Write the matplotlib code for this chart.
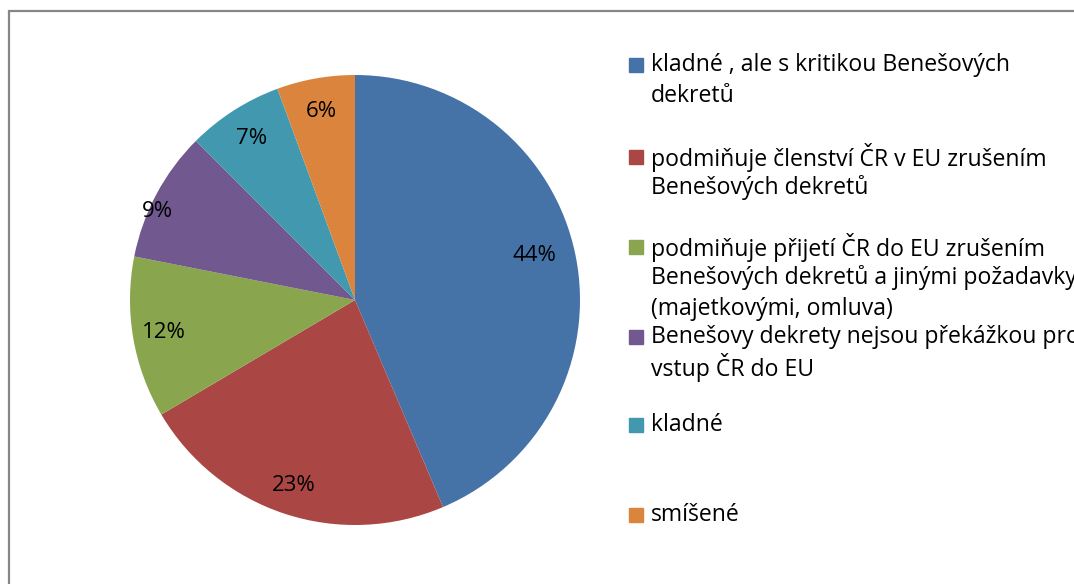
import numpy as np
import matplotlib.pyplot as plt
from matplotlib.patches import Rectangle

# shares (labels round to 44/23/12/9/7/6 %)
categories = [
    'kladné , ale s kritikou Benešových\ndekretů',
    'podmiňuje členství ČR v EU zrušením\nBenešových dekretů',
    'podmiňuje přijetí ČR do EU zrušením\nBenešových dekretů a jinými požadavky\n(majetkovými, omluva)',
    'Benešovy dekrety nejsou překážkou pro\nvstup ČR do EU',
    'kladné',
    'smíšené',
]
shares = [43.6, 22.9, 11.6, 9.4, 6.9, 5.6]
colors = ['#4572A7', '#AA4643', '#89A54E', '#71588F', '#4198AF', '#DB843D']

# layout: radial place / angle nudge of each % label, legend rows (px from top)
pct_dist = [0.82, 0.87, 0.86, 0.96, 0.85, 0.85]
pct_nudge = [2.5, 0, 0, 4, 0, 0]
legend_rows = [65, 157, 247, 337, 425, 515]

W, H = 1074, 584
plt.rcParams['font.family'] = ['Open Sans', 'DejaVu Sans']

fig = plt.figure(figsize=(W / 100, H / 100), dpi=100)

# chart frame, runs off the right and bottom edges
fig.patches.append(Rectangle((8.5 / W, -0.05), 1.1, (H - 10.5) / H + 0.05,
                             transform=fig.transFigure, fill=False,
                             edgecolor='#868686', linewidth=1.6))

ax = fig.add_axes([130 / W, (H - 525) / H, 450 / W, 450 / H])
wedges, texts, autotexts = ax.pie(shares, colors=colors, startangle=90,
                                  counterclock=False, autopct='%.0f%%',
                                  textprops={'fontsize': 16, 'color': 'black'})
for w, t, d, n in zip(wedges, autotexts, pct_dist, pct_nudge):
    ang = np.deg2rad((w.theta1 + w.theta2) / 2 + n)
    t.set_position((d * np.cos(ang), d * np.sin(ang)))
ax.set_xlim(-1, 1)
ax.set_ylim(-1, 1)
ax.set_aspect('equal')

line_h = 31
for label, col, y in zip(categories, colors, legend_rows):
    fig.patches.append(Rectangle((629 / W, 1 - (y + 7) / H), 14 / W, 14 / H,
                                 transform=fig.transFigure, color=col))
    for i, line in enumerate(label.split('\n')):
        fig.text(651 / W, 1 - (y + i * line_h) / H, line, fontsize=16.6,
                 va='center', ha='left', color='black')

fig.savefig('out.png', dpi=100)
